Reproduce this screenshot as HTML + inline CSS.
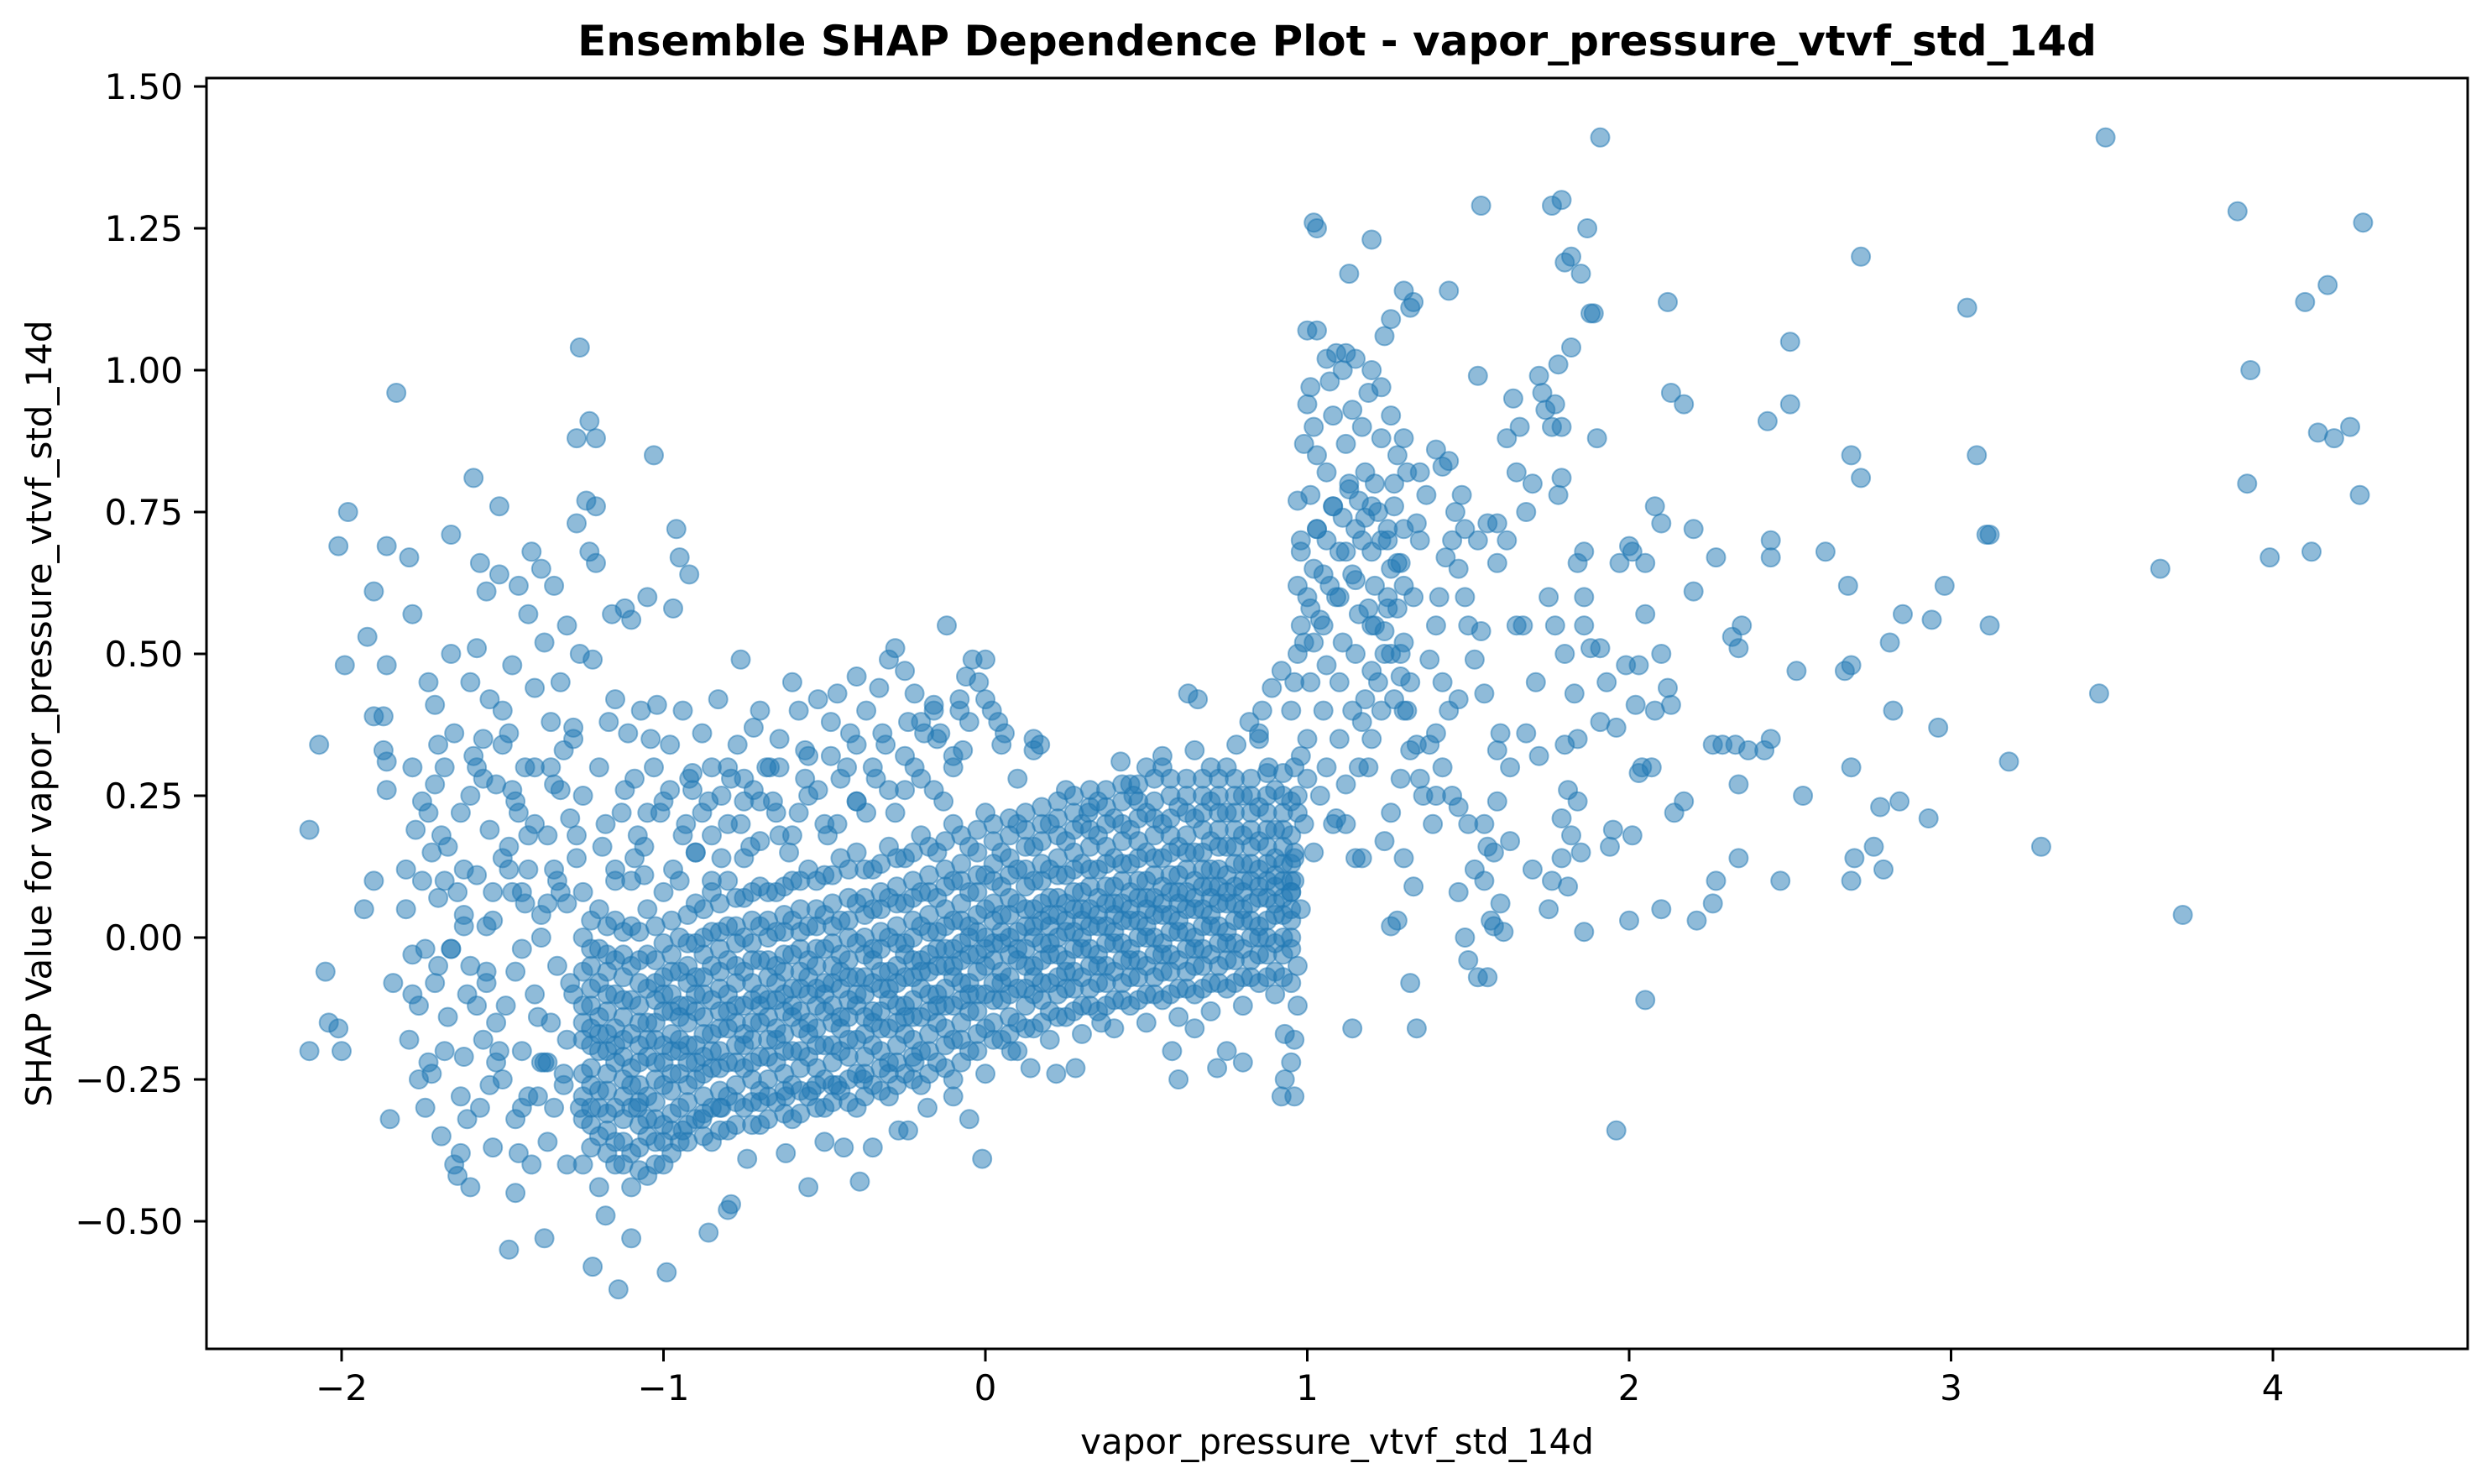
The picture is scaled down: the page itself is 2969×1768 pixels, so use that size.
<!DOCTYPE html>
<html>
<head>
<meta charset="utf-8">
<style>
  html, body { margin: 0; padding: 0; background: #ffffff; }
  svg { display: block; }
  text { font-family: "DejaVu Sans", "Liberation Sans", sans-serif; fill: #000; }
</style>
</head>
<body>
<svg id="chart" width="2969" height="1768" viewBox="0 0 2969 1768" xmlns="http://www.w3.org/2000/svg">
  <rect x="0" y="0" width="2969" height="1768" fill="#ffffff"/>
  <text x="1593" y="66" font-size="50" font-weight="bold" text-anchor="middle">Ensemble SHAP Dependence Plot - vapor_pressure_vtvf_std_14d</text>
  <text x="1593" y="1732" font-size="42" text-anchor="middle">vapor_pressure_vtvf_std_14d</text>
  <text x="0" y="0" font-size="42" text-anchor="middle" transform="translate(61,850) rotate(-90)">SHAP Value for vapor_pressure_vtvf_std_14d</text>
  <g id="points"></g>
  <g id="xticks"></g>
  <g id="yticks"></g>
  <rect x="246" y="93" width="2694" height="1514" fill="none" stroke="#000" stroke-width="3"/>
</svg>
<script>
const xTickValues = [-2, -1, 0, 1, 2, 3, 4];
const xTickLabels = ["\u22122", "\u22121", "0", "1", "2", "3", "4"];
const yTickValues = [-0.5, -0.25, 0, 0.25, 0.5, 0.75, 1.0, 1.25, 1.5];
const yTickLabels = ["\u22120.50", "\u22120.25", "0.00", "0.25", "0.50", "0.75", "1.00", "1.25", "1.50"];

// dense core: column x positions and their SHAP values
const coreColumnX = [-1.25,-1.20,-1.15,-1.10,-1.05,-1.00,-0.95,-0.90,-0.85,-0.80,-0.75,-0.70,-0.65,-0.60,-0.55,-0.50,-0.45,-0.40,-0.35,-0.30,-0.25,-0.20,-0.15,-0.10,-0.05,0.00,0.05,0.10,0.15,0.20,0.25,0.30,0.35,0.40,0.45,0.50,0.55,0.60,0.65,0.70,0.75,0.80,0.85,0.90,0.95];
const coreColumnY = [
[-0.32,-0.24,-0.18,-0.12,-0.06,0.00,0.08,-0.40,-0.15,-0.28],
[-0.35,-0.27,-0.20,-0.14,-0.08,-0.02,0.05,-0.44,-0.17,-0.30],
[-0.30,-0.22,-0.16,-0.10,-0.04,0.03,0.12,-0.40,-0.36,-0.19],
[-0.38,-0.30,-0.23,-0.17,-0.11,-0.05,0.02,0.10,-0.44,-0.26],
[-0.35,-0.28,-0.21,-0.15,-0.09,-0.03,0.05,-0.42,-0.32,-0.18],
[-0.33,-0.26,-0.19,-0.13,-0.07,-0.01,0.08,-0.40,-0.22,-0.10],
[-0.30,-0.24,-0.18,-0.12,-0.06,0.00,0.10,-0.36,-0.20,-0.14],
[-0.32,-0.25,-0.19,-0.13,-0.07,-0.01,0.06,0.15,-0.22,-0.10],
[-0.30,-0.23,-0.17,-0.11,-0.05,0.01,0.08,0.18,-0.20,-0.36],
[-0.28,-0.22,-0.16,-0.10,-0.04,0.02,0.10,0.20,-0.34,-0.13],
[-0.30,-0.23,-0.17,-0.12,-0.06,0.00,0.07,0.14,0.24,-0.19],
[-0.27,-0.21,-0.15,-0.10,-0.04,0.02,0.09,0.17,-0.33,-0.12],
[-0.29,-0.22,-0.16,-0.11,-0.05,0.01,0.08,0.22,-0.18,-0.08],
[-0.26,-0.20,-0.14,-0.09,-0.03,0.03,0.10,0.18,-0.32,-0.12],
[-0.28,-0.21,-0.15,-0.10,-0.04,0.02,0.12,0.25,-0.17,-0.07],
[-0.25,-0.19,-0.13,-0.08,-0.02,0.04,0.11,0.20,-0.30,-0.10],
[-0.27,-0.20,-0.14,-0.09,-0.03,0.03,0.14,0.28,-0.16,-0.06],
[-0.24,-0.18,-0.12,-0.07,-0.01,0.06,0.15,0.24,-0.30,-0.10],
[-0.26,-0.19,-0.13,-0.08,-0.02,0.05,0.12,0.30,-0.15,-0.04],
[-0.22,-0.16,-0.11,-0.06,0.00,0.07,0.16,0.26,-0.28,-0.09],
[-0.24,-0.17,-0.12,-0.07,-0.01,0.06,0.14,0.32,-0.14,-0.03],
[-0.20,-0.14,-0.09,-0.04,0.02,0.08,0.18,0.28,-0.26,-0.06],
[-0.22,-0.15,-0.10,-0.05,0.01,0.07,0.15,0.35,-0.12,-0.02],
[-0.18,-0.12,-0.07,-0.02,0.03,0.10,0.20,0.30,-0.25,-0.05],
[-0.20,-0.13,-0.08,-0.03,0.02,0.08,0.16,0.38,-0.10,0.00],
[-0.16,-0.10,-0.05,0.00,0.05,0.11,0.22,0.42,-0.24,-0.02],
[-0.18,-0.11,-0.06,-0.01,0.04,0.09,0.15,0.34,-0.08,0.01],
[-0.15,-0.09,-0.04,0.01,0.06,0.12,0.20,0.28,-0.20,-0.02],
[-0.16,-0.10,-0.05,0.00,0.05,0.10,0.16,0.33,-0.07,0.02],
[-0.13,-0.08,-0.03,0.02,0.07,0.12,0.20,-0.18,0.04,-0.01],
[-0.14,-0.09,-0.04,0.01,0.06,0.11,0.17,0.26,-0.06,0.03],
[-0.12,-0.07,-0.02,0.03,0.08,0.13,0.20,-0.17,0.05,0.00],
[-0.13,-0.08,-0.03,0.02,0.07,0.12,0.18,0.24,-0.05,0.04],
[-0.11,-0.06,-0.01,0.04,0.09,0.14,0.21,-0.16,0.06,0.01],
[-0.12,-0.07,-0.02,0.03,0.08,0.13,0.19,0.27,-0.04,0.05],
[-0.10,-0.05,0.00,0.05,0.10,0.15,0.22,-0.15,0.07,0.02],
[-0.11,-0.06,-0.01,0.04,0.09,0.14,0.20,0.30,-0.03,0.06],
[-0.09,-0.04,0.01,0.06,0.11,0.16,0.23,-0.14,0.08,0.03],
[-0.10,-0.05,0.00,0.05,0.10,0.15,0.21,0.33,-0.02,0.07],
[-0.08,-0.03,0.02,0.07,0.12,0.17,0.24,-0.13,0.09,0.04],
[-0.09,-0.04,0.01,0.06,0.11,0.16,0.22,0.30,-0.01,0.08],
[-0.07,-0.02,0.03,0.08,0.13,0.18,0.25,-0.12,0.10,0.05],
[-0.08,-0.03,0.02,0.07,0.12,0.17,0.23,0.36,0.00,0.09],
[-0.06,-0.01,0.04,0.09,0.14,0.19,0.26,-0.10,0.11,0.06],
[-0.08,-0.02,0.03,0.08,0.13,0.18,0.24,0.00,0.10,0.05]
];
// second, offset pass filling the dense band
const coreColumnX2 = [-1.225,-1.175,-1.125,-1.075,-1.025,-0.975,-0.925,-0.875,-0.825,-0.775,-0.725,-0.675,-0.625,-0.575,-0.525,-0.475,-0.425,-0.375,-0.325,-0.275,-0.225,-0.175,-0.125,-0.075,-0.025,0.025,0.075,0.125,0.175,0.225,0.275,0.325,0.375,0.425,0.475,0.525,0.575,0.625,0.675,0.725,0.775,0.825,0.875,0.925];
const coreColumnY2 = [
[-0.37,-0.33,-0.30,-0.26,-0.23,-0.19,-0.16,-0.12,-0.09,-0.05,-0.02,0.03],
[-0.38,-0.34,-0.31,-0.27,-0.24,-0.20,-0.17,-0.13,-0.10,-0.06,-0.03,0.02],
[-0.40,-0.36,-0.32,-0.28,-0.25,-0.21,-0.18,-0.14,-0.11,-0.07,-0.03,0.01],
[-0.41,-0.37,-0.33,-0.29,-0.26,-0.22,-0.19,-0.15,-0.12,-0.08,-0.04,0.01],
[-0.40,-0.36,-0.32,-0.29,-0.25,-0.22,-0.18,-0.15,-0.11,-0.08,-0.04,0.02],
[-0.38,-0.34,-0.31,-0.27,-0.24,-0.20,-0.17,-0.13,-0.10,-0.06,-0.03,0.03],
[-0.36,-0.33,-0.29,-0.26,-0.22,-0.19,-0.15,-0.12,-0.08,-0.05,-0.01,0.04],
[-0.35,-0.31,-0.28,-0.24,-0.21,-0.17,-0.14,-0.10,-0.07,-0.03,0.00,0.05],
[-0.34,-0.30,-0.27,-0.23,-0.20,-0.16,-0.13,-0.09,-0.06,-0.02,0.01,0.06],
[-0.33,-0.29,-0.26,-0.22,-0.19,-0.15,-0.12,-0.08,-0.05,-0.01,0.02,0.07],
[-0.33,-0.29,-0.25,-0.22,-0.18,-0.15,-0.11,-0.08,-0.04,-0.01,0.03,0.08],
[-0.32,-0.28,-0.25,-0.21,-0.18,-0.14,-0.11,-0.07,-0.04,0.00,0.03,0.08],
[-0.31,-0.27,-0.24,-0.20,-0.17,-0.13,-0.10,-0.06,-0.03,0.01,0.04,0.09],
[-0.31,-0.27,-0.23,-0.20,-0.16,-0.13,-0.09,-0.06,-0.02,0.01,0.05,0.10],
[-0.30,-0.26,-0.23,-0.19,-0.16,-0.12,-0.09,-0.05,-0.02,0.02,0.05,0.10],
[-0.29,-0.26,-0.22,-0.19,-0.15,-0.12,-0.08,-0.05,-0.01,0.02,0.06,0.11],
[-0.29,-0.25,-0.21,-0.18,-0.14,-0.11,-0.07,-0.04,0.00,0.03,0.07,0.12],
[-0.28,-0.24,-0.21,-0.17,-0.14,-0.10,-0.07,-0.03,0.00,0.04,0.07,0.12],
[-0.27,-0.23,-0.20,-0.16,-0.13,-0.09,-0.06,-0.02,0.01,0.05,0.08,0.13],
[-0.26,-0.22,-0.19,-0.15,-0.12,-0.08,-0.05,-0.01,0.02,0.06,0.09,0.14],
[-0.25,-0.21,-0.18,-0.14,-0.11,-0.07,-0.04,0.00,0.03,0.07,0.10,0.15],
[-0.24,-0.20,-0.17,-0.13,-0.10,-0.06,-0.03,0.01,0.04,0.08,0.11,0.16],
[-0.23,-0.19,-0.16,-0.12,-0.09,-0.05,-0.02,0.02,0.05,0.09,0.12,0.17],
[-0.22,-0.18,-0.15,-0.11,-0.08,-0.04,-0.01,0.03,0.06,0.10,0.13,0.18],
[-0.20,-0.17,-0.13,-0.10,-0.06,-0.03,0.01,0.04,0.08,0.11,0.15,0.19],
[-0.18,-0.15,-0.11,-0.08,-0.04,-0.01,0.03,0.06,0.10,0.13,0.17,0.20],
[-0.17,-0.14,-0.10,-0.07,-0.03,0.00,0.04,0.07,0.11,0.14,0.18,0.21],
[-0.16,-0.12,-0.09,-0.05,-0.02,0.02,0.05,0.09,0.12,0.16,0.19,0.22],
[-0.15,-0.11,-0.08,-0.04,-0.01,0.03,0.06,0.10,0.13,0.17,0.20,0.23],
[-0.14,-0.10,-0.07,-0.03,0.00,0.04,0.07,0.11,0.14,0.18,0.21,0.24],
[-0.13,-0.09,-0.06,-0.02,0.01,0.05,0.08,0.12,0.15,0.19,0.22,0.25],
[-0.12,-0.09,-0.05,-0.02,0.02,0.05,0.09,0.12,0.16,0.19,0.23,0.26],
[-0.12,-0.08,-0.05,-0.01,0.02,0.06,0.09,0.13,0.16,0.20,0.23,0.26],
[-0.11,-0.08,-0.04,-0.01,0.03,0.06,0.10,0.13,0.17,0.20,0.24,0.27],
[-0.11,-0.07,-0.04,0.00,0.03,0.07,0.10,0.14,0.17,0.21,0.24,0.27],
[-0.10,-0.07,-0.03,0.00,0.04,0.07,0.11,0.14,0.18,0.21,0.24,0.28],
[-0.10,-0.06,-0.03,0.01,0.04,0.08,0.11,0.15,0.18,0.21,0.25,0.28],
[-0.09,-0.06,-0.02,0.01,0.05,0.08,0.12,0.15,0.18,0.22,0.25,0.28],
[-0.09,-0.05,-0.02,0.02,0.05,0.09,0.12,0.15,0.19,0.22,0.25,0.28],
[-0.08,-0.05,-0.01,0.02,0.06,0.09,0.12,0.16,0.19,0.22,0.25,0.28],
[-0.08,-0.04,-0.01,0.03,0.06,0.09,0.13,0.16,0.19,0.22,0.25,0.28],
[-0.07,-0.04,0.00,0.03,0.06,0.10,0.13,0.16,0.19,0.22,0.25,0.28],
[-0.07,-0.03,0.00,0.03,0.07,0.10,0.13,0.16,0.19,0.22,0.25,0.29],
[-0.07,-0.03,0.00,0.04,0.07,0.10,0.13,0.16,0.19,0.22,0.25,0.29]
];

// scattered points (left cloud and middle outliers)
const scatterX = [-2.10,-2.07,-2.05,-2.04,-2.01,-2.10,-2.00,-2.01,-1.99,-1.98,-1.93,-1.92,-1.90,-1.90,-1.90,-1.87,-1.87,-1.86,-1.86,-1.86,-1.86,-1.85,-1.84,-1.83,-1.80,-1.79,-1.78,-1.78,-1.78,-1.77,-1.76,-1.75,-1.74,-1.73,-1.73,-1.73,-1.72,-1.71,-1.71,-1.70,-1.70,-1.69,-1.68,-1.68,-1.67,-1.66,-1.66,-1.65,-1.65,-1.64,-1.63,-1.63,-1.62,-1.62,-1.61,-1.60,-1.60,-1.60,-1.59,-1.58,-1.58,-1.57,-1.57,-1.56,-1.56,-1.55,-1.55,-1.54,-1.54,-1.53,-1.53,-1.52,-1.51,-1.51,-1.50,-1.50,-1.49,-1.48,-1.48,-1.47,-1.47,-1.46,-1.46,-1.45,-1.45,-1.44,-1.44,-1.43,-1.42,-1.42,-1.41,-1.41,-1.40,-1.40,-1.39,-1.38,-1.38,-1.37,-1.37,-1.36,-1.36,-1.35,-1.35,-1.34,-1.34,-1.33,-1.33,-1.32,-1.31,-1.31,-1.30,-1.30,-1.29,-1.28,-1.27,-1.27,-1.26,-1.26,-1.25,-1.24,-1.23,-1.23,-1.22,-1.22,-1.21,-1.21,-1.21,-1.20,-1.19,-1.18,-1.17,-1.16,-1.15,-1.14,-1.13,-1.12,-1.11,-1.10,-1.10,-1.09,-1.08,-1.07,-1.06,-1.05,-1.04,-1.03,-1.02,-1.01,-0.99,-0.98,-0.97,-0.96,-0.95,-0.94,-0.93,-0.92,-0.91,-0.90,-0.88,-0.86,-0.85,-0.83,-0.82,-0.80,-0.79,-0.77,-0.76,-0.75,-0.74,-0.72,-0.70,-0.68,-0.66,-0.64,-0.62,-0.60,-0.58,-0.56,-0.55,-0.52,-0.50,-0.48,-0.46,-0.44,-0.42,-0.40,-0.39,-0.37,-0.35,-0.33,-0.30,-0.28,-0.27,-0.25,-0.24,-0.22,-0.20,-0.18,-0.16,-0.14,-0.12,-0.10,-0.08,-0.06,-0.05,-0.04,-0.02,-0.01,0.00,0.02,0.04,0.06,0.08,0.15,0.17,0.14,0.22,0.28,0.32,0.36,0.42,0.46,0.50,0.55,0.58,0.60,0.63,0.66,0.65,0.70,0.72,0.75,0.78,0.80,0.82,0.86,0.89,0.92,0.93,0.93,0.92,0.88,0.85,
-1.62,-1.55,-1.48,-1.42,-1.36,-1.30,-1.58,-1.50,-1.44,-1.38,-1.32,-1.27,-1.66,-1.52,-1.46,-1.40,-1.34,-1.28,-1.05,-0.98,-0.92,-0.86,-0.80,-0.72,-0.64,-0.56,-0.48,-0.40,-0.32,-0.24,-0.16,-0.08,-1.08,-1.00,-0.94,-0.88,-0.82,-0.70,-0.62,-0.54,-0.46,-0.38,-0.30,-0.22];
const scatterY = [0.19,0.34,-0.06,-0.15,-0.16,-0.20,-0.20,0.69,0.48,0.75,0.05,0.53,0.61,0.39,0.10,0.39,0.33,0.26,0.69,0.48,0.31,-0.32,-0.08,0.96,0.12,0.67,0.57,-0.03,-0.10,0.19,-0.25,0.10,-0.02,0.45,0.22,-0.22,-0.24,0.27,0.41,0.07,-0.05,0.18,0.30,0.10,-0.14,0.71,0.50,0.36,-0.40,-0.42,-0.38,0.22,-0.21,0.04,-0.10,0.45,0.25,-0.44,0.81,0.51,0.11,-0.30,0.66,0.35,-0.18,0.61,-0.06,0.42,0.19,-0.37,0.03,0.27,0.76,0.64,-0.25,0.14,-0.12,-0.55,0.36,0.48,0.08,-0.45,-0.32,0.62,0.22,-0.02,-0.20,0.30,0.57,0.12,0.68,-0.40,0.44,-0.10,-0.28,0.65,0.04,-0.53,0.52,0.18,-0.36,0.38,-0.15,0.62,0.27,-0.05,0.10,0.45,-0.24,0.33,0.55,-0.40,0.21,0.37,0.73,0.88,1.04,0.50,0.25,0.77,0.91,0.68,0.49,-0.58,0.88,0.76,0.66,0.30,0.16,-0.49,0.38,0.57,0.42,-0.62,0.22,0.58,0.36,-0.53,0.56,0.28,0.18,0.40,0.11,0.60,0.35,0.85,0.41,0.22,-0.59,0.34,0.58,0.72,0.67,0.40,0.20,0.64,0.29,0.15,0.36,-0.52,0.30,0.42,0.25,-0.48,-0.47,0.34,0.49,0.28,-0.39,0.37,0.40,0.30,0.24,0.35,-0.38,0.45,0.40,0.33,-0.44,0.42,-0.36,0.38,0.43,-0.37,0.36,0.46,-0.43,0.40,-0.37,0.44,0.49,0.51,-0.34,0.47,-0.34,0.43,0.38,-0.30,0.41,0.36,0.55,-0.28,0.40,0.46,-0.32,0.49,0.45,-0.39,0.49,0.40,0.38,0.36,-0.20,0.35,0.34,-0.23,-0.24,-0.23,0.22,-0.15,0.31,0.25,0.30,0.32,-0.20,-0.25,0.43,0.42,-0.16,0.30,-0.23,-0.20,0.34,-0.22,0.38,0.40,0.44,-0.28,-0.25,-0.17,0.47,0.30,0.35,
0.02,-0.08,0.16,-0.28,0.06,-0.18,0.30,0.40,0.08,-0.22,0.26,0.14,-0.02,-0.22,0.24,0.30,-0.30,0.35,0.22,0.26,0.28,0.24,0.30,0.26,0.30,0.28,0.32,0.34,0.36,0.38,0.40,0.42,-0.30,-0.36,-0.34,-0.32,-0.30,-0.29,-0.28,-0.27,-0.26,-0.25,-0.24,-0.22];

// extra points thickening the left cloud
const leftExtraX = [-1.80,-1.76,-1.72,-1.68,-1.64,-1.60,-1.56,-1.52,-1.48,-1.44,-1.40,-1.36,-1.32,-1.28,-1.79,-1.75,-1.71,-1.67,-1.63,-1.59,-1.55,-1.51,-1.47,-1.43,-1.39,-1.35,-1.31,-1.27,-1.78,-1.74,-1.70,-1.66,-1.62,-1.58,-1.54,-1.50,-1.46,-1.42,-1.38,-1.34,-1.30,-1.26,-1.69,-1.61,-1.53,-1.45,-1.37,-1.29,-1.18,-1.12,-1.06,-1.00,-0.94,-0.88,-0.82,-0.76,-0.70,-0.64,-0.58,-0.52,-0.46,-0.40,-0.34,-0.28,-0.22,-0.16,-0.10,-1.15,-1.09,-1.03,-0.97,-0.91,-0.85,-0.79,-0.73,-0.67,-0.61,-0.55,-0.49,-0.43,-0.37,-0.31,-0.25,-0.19,-0.13,-0.07];
const leftExtraY = [0.05,-0.12,0.15,-0.20,0.08,-0.05,0.28,-0.15,0.12,-0.30,0.20,-0.22,0.08,-0.10,-0.18,0.24,-0.08,0.16,-0.28,0.32,0.02,-0.20,0.26,0.06,-0.14,0.30,-0.26,0.18,0.30,-0.30,0.34,-0.02,0.12,-0.12,-0.26,0.34,-0.06,0.18,0.00,0.12,0.06,-0.30,-0.35,-0.32,0.08,-0.38,-0.22,-0.08,0.20,0.26,0.16,0.24,0.18,0.22,0.14,0.20,0.24,0.18,0.22,0.26,0.20,0.24,0.28,0.22,0.30,0.26,0.32,0.10,0.14,0.30,0.12,0.26,0.10,0.28,0.16,0.30,0.15,0.32,0.18,0.30,0.22,0.34,0.26,0.36,0.24,0.33];

// right-hand region (x > 0.95)
const rightX = [1.91,3.48,3.89,4.28,4.17,4.10,3.05,2.72,2.12,3.93,4.24,4.14,4.19,3.92,4.27,3.08,2.69,2.72,3.12,3.11,4.12,3.99,3.65,2.61,2.44,2.44,2.50,2.50,2.43,2.13,2.17,2.98,2.85,2.68,2.69,2.67,2.81,2.94,3.12,2.52,3.46,2.82,2.96,3.18,2.69,2.35,2.32,2.34,2.20,2.27,2.08,2.10,2.20,2.54,2.34,2.29,2.33,2.44,2.42,2.37,2.26,2.14,2.17,2.84,2.78,2.93,2.76,2.70,2.79,2.69,3.28,2.34,2.47,2.27,2.26,2.21,2.10,3.72,2.05,1.96,2.00,1.86,1.95,1.94,2.01,2.04,2.07,2.03,1.99,2.03,2.02,2.08,2.12,2.10,2.13,2.05,2.05,2.00,2.01,1.97,1.93,1.96,1.91,1.88,1.91,1.86,1.86,1.84,1.86,1.90,1.88,1.89,1.87,1.85,1.82,1.80,1.79,1.76,1.78,1.82,1.77,1.76,1.74,1.73,1.72,1.79,1.79,1.78,1.70,1.65,1.68,1.64,1.66,1.62,1.54,1.53,1.44,1.59,1.56,1.53,1.59,1.62,1.65,1.67,1.71,1.75,1.77,1.80,1.83,1.80,1.84,1.81,1.84,1.79,1.82,1.79,1.76,1.70,1.75,1.81,1.85,1.72,1.68,1.63,1.60,1.59,1.63,1.58,1.56,1.55,1.60,1.57,1.52,1.47,1.49,1.50,1.53,1.58,1.56,1.61,1.59,1.55,1.50,1.47,1.45,1.47,1.52,1.55,1.50,1.54,1.49,1.47,1.45,1.46,1.48,1.49,1.42,1.40,1.44,1.43,1.41,1.40,1.38,1.42,1.44,1.40,1.38,1.42,1.40,1.36,1.39,1.34,1.33,1.35,1.34,1.35,1.37,1.31,1.30,1.32,1.30,1.33,1.26,1.24,1.20,1.13,1.02,1.03,1.00,1.03,1.01,1.00,1.06,1.09,1.11,1.12,1.15,1.20,1.23,1.26,1.28,1.27,1.30,1.29,1.25,1.21,1.26,1.29,1.30,1.32,1.35,1.29,1.26,1.24,1.30,1.33,1.28,1.26,1.32,1.34,1.14,1.15,1.17,1.12,1.09,1.19,1.17,1.22,1.20,
0.95,0.96,0.97,0.98,0.97,0.98,0.97,0.99,0.96,0.97,0.99,1.00,1.01,1.02,1.01,1.02,1.03,1.01,1.03,1.02,1.05,1.06,1.05,1.07,1.06,1.08,1.06,1.08,1.07,1.10,1.11,1.10,1.12,1.11,1.13,1.12,1.14,1.15,1.16,1.15,1.17,1.16,1.18,1.17,1.19,1.20,1.21,1.20,1.22,1.21,1.23,1.24,1.25,1.26,1.25,1.27,1.28,1.30,1.32,1.31,1.27,1.23,1.18,1.14,1.10,1.06,1.04,1.08,1.12,1.16,1.20,1.02,1.00,0.96,0.95,0.97,0.96,0.95,
0.98,1.03,1.08,1.13,1.18,1.23,1.28,1.00,1.05,1.10,1.15,1.20,1.25,1.30,0.99,1.04,1.09,1.14,1.19,1.24,1.29,0.96,0.97,0.98,0.96,0.97,0.98,0.96];
const rightY = [1.41,1.41,1.28,1.26,1.15,1.12,1.11,1.20,1.12,1.00,0.90,0.89,0.88,0.80,0.78,0.85,0.85,0.81,0.71,0.71,0.68,0.67,0.65,0.68,0.67,0.70,0.94,1.05,0.91,0.96,0.94,0.62,0.57,0.62,0.48,0.47,0.52,0.56,0.55,0.47,0.43,0.40,0.37,0.31,0.30,0.55,0.53,0.51,0.61,0.67,0.76,0.73,0.72,0.25,0.27,0.34,0.34,0.35,0.33,0.33,0.34,0.22,0.24,0.24,0.23,0.21,0.16,0.14,0.12,0.10,0.16,0.14,0.10,0.10,0.06,0.03,0.05,0.04,-0.11,-0.34,0.03,0.01,0.19,0.16,0.18,0.30,0.30,0.29,0.48,0.48,0.41,0.40,0.44,0.50,0.41,0.57,0.66,0.69,0.68,0.66,0.45,0.37,0.38,0.51,0.51,0.55,0.60,0.66,0.68,0.88,1.10,1.10,1.25,1.17,1.20,1.19,1.30,1.29,1.01,1.04,0.94,0.90,0.93,0.96,0.99,0.90,0.81,0.78,0.80,0.82,0.75,0.95,0.90,0.88,1.29,0.99,1.14,0.73,0.73,0.70,0.66,0.70,0.55,0.55,0.45,0.60,0.55,0.50,0.43,0.34,0.35,0.26,0.24,0.21,0.18,0.14,0.10,0.12,0.05,0.09,0.15,0.32,0.36,0.30,0.36,0.33,0.17,0.15,0.16,0.10,0.06,0.03,0.12,0.08,0.00,-0.04,-0.07,0.02,-0.07,0.01,0.24,0.20,0.20,0.23,0.25,0.42,0.49,0.43,0.55,0.54,0.60,0.65,0.70,0.75,0.78,0.72,0.83,0.86,0.84,0.67,0.60,0.55,0.49,0.45,0.40,0.36,0.34,0.30,0.25,0.25,0.20,0.34,0.60,0.70,0.73,0.82,0.78,0.82,0.88,1.11,1.14,1.12,1.09,1.06,1.23,1.17,1.26,1.25,1.07,1.07,0.97,0.94,1.02,1.03,1.00,1.03,1.02,1.00,0.97,0.92,0.85,0.80,0.72,0.66,0.60,0.55,0.50,0.46,0.40,0.33,0.28,0.28,0.22,0.17,0.14,0.09,0.03,0.02,-0.08,-0.16,-0.16,0.14,0.14,0.20,0.21,0.30,0.38,0.45,0.47,
0.40,0.45,0.50,0.55,0.62,0.70,0.77,0.87,0.30,0.25,0.20,0.35,0.45,0.52,0.58,0.65,0.72,0.78,0.85,0.90,0.40,0.48,0.55,0.62,0.70,0.76,0.82,0.92,0.98,0.45,0.52,0.60,0.68,0.74,0.80,0.87,0.93,0.50,0.57,0.63,0.70,0.77,0.82,0.90,0.96,0.55,0.62,0.68,0.75,0.80,0.88,0.50,0.58,0.65,0.72,0.76,0.58,0.52,0.45,0.40,0.42,0.40,0.42,0.40,0.35,0.30,0.25,0.20,0.27,0.30,0.35,0.15,0.28,-0.28,-0.22,-0.12,0.14,0.08,
0.68,0.72,0.76,0.79,0.74,0.70,0.66,0.60,0.64,0.68,0.72,0.76,0.70,0.62,0.52,0.56,0.60,0.64,0.58,0.54,0.50,-0.18,-0.05,0.05,0.15,0.22,0.32,0.10];

const X0 = 1174, XU = 383.5;   // x pixel of value 0, pixels per unit
const Y0 = 1117, YU = 676;     // y pixel of value 0, pixels per unit
function xScale(v) { return X0 + v * XU; }
function yScale(v) { return Y0 - v * YU; }

const NS = "http://www.w3.org/2000/svg";
const gPts = document.getElementById("points");
function addPoint(xv, yv, name) {
  const c = document.createElementNS(NS, "circle");
  c.setAttribute("cx", xScale(xv).toFixed(1));
  c.setAttribute("cy", yScale(yv).toFixed(1));
  c.setAttribute("r", "11");
  c.setAttribute("fill", "#1f77b4");
  c.setAttribute("fill-opacity", "0.5");
  c.setAttribute("stroke", "#1f77b4");
  c.setAttribute("stroke-opacity", "0.5");
  c.setAttribute("stroke-width", "2");
  
  
  gPts.appendChild(c);
}
coreColumnX.forEach((xv, i) => coreColumnY[i].forEach(yv => addPoint(xv, yv, 'scatter-point')));
coreColumnX2.forEach((xv, i) => coreColumnY2[i].forEach(yv => addPoint(xv, yv, 'scatter-point')));
scatterX.forEach((xv, i) => addPoint(xv, scatterY[i], 'scatter-point'));
leftExtraX.forEach((xv, i) => addPoint(xv, leftExtraY[i], 'scatter-point'));
rightX.forEach((xv, i) => addPoint(xv, rightY[i], 'scatter-point'));

const gX = document.getElementById("xticks");
xTickValues.forEach((v, i) => {
  const px = xScale(v);
  const l = document.createElementNS(NS, "line");
  l.setAttribute("x1", px); l.setAttribute("x2", px);
  l.setAttribute("y1", 1607); l.setAttribute("y2", 1622);
  l.setAttribute("stroke", "#000"); l.setAttribute("stroke-width", "3");
  
  
  gX.appendChild(l);
  const t = document.createElementNS(NS, "text");
  t.setAttribute("x", px); t.setAttribute("y", 1668);
  t.setAttribute("font-size", "42"); t.setAttribute("text-anchor", "middle");
  t.textContent = xTickLabels[i];
  
  
  gX.appendChild(t);
});
const gY = document.getElementById("yticks");
yTickValues.forEach((v, i) => {
  const py = yScale(v);
  const l = document.createElementNS(NS, "line");
  l.setAttribute("x1", 231); l.setAttribute("x2", 246);
  l.setAttribute("y1", py); l.setAttribute("y2", py);
  l.setAttribute("stroke", "#000"); l.setAttribute("stroke-width", "3");
  
  
  gY.appendChild(l);
  const t = document.createElementNS(NS, "text");
  t.setAttribute("x", 218); t.setAttribute("y", py + 15);
  t.setAttribute("font-size", "42"); t.setAttribute("text-anchor", "end");
  t.textContent = yTickLabels[i];
  
  
  gY.appendChild(t);
});
</script>
</body>
</html>
